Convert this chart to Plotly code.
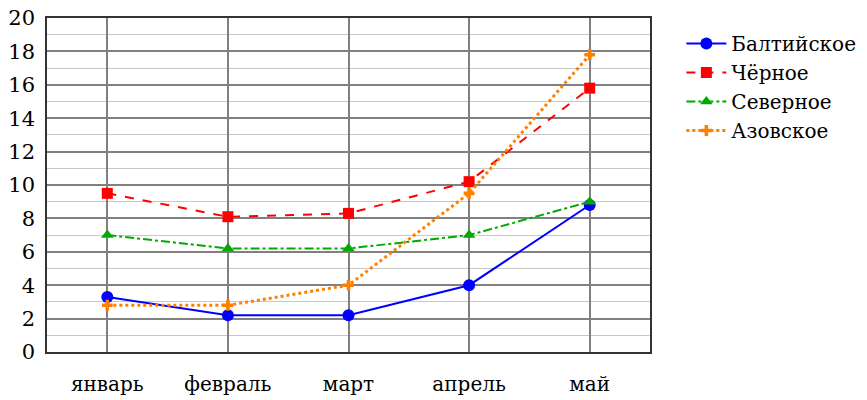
import plotly.graph_objects as go

months = ["январь", "февраль", "март", "апрель", "май"]
baltic = [3.3, 2.2, 2.2, 4.0, 8.8]
black = [9.5, 8.1, 8.3, 10.2, 15.8]
north = [7.0, 6.2, 6.2, 7.0, 9.0]
azov = [2.8, 2.8, 4.0, 9.5, 17.8]
y_ticks = list(range(0, 21, 2))

FONT = "DejaVu Serif"

fig = go.Figure()
fig.add_trace(go.Scatter(x=months, y=baltic, name="Балтийское", mode="lines+markers",
                         line=dict(color="#0000ff", width=2, dash="solid"),
                         marker=dict(symbol="circle", size=12, color="#0000ff")))
fig.add_trace(go.Scatter(x=months, y=black, name="Чёрное", mode="lines+markers",
                         line=dict(color="#ff0000", width=2, dash="dash"),
                         marker=dict(symbol="square", size=11, color="#ff0000")))
fig.add_trace(go.Scatter(x=months, y=north, name="Северное", mode="lines+markers",
                         line=dict(color="#00aa00", width=2, dash="dashdot"),
                         marker=dict(symbol="triangle-up", size=11, color="#00aa00")))
fig.add_trace(go.Scatter(x=months, y=azov, name="Азовское", mode="lines+markers",
                         line=dict(color="#ff8000", width=3, dash="dot"),
                         marker=dict(symbol="cross", size=9, color="#ff8000")))

fig.update_layout(
    width=867, height=400,
    margin=dict(l=47, r=217, t=18, b=48, autoexpand=False),
    paper_bgcolor="white", plot_bgcolor="white",
    font=dict(family=FONT, size=20, color="black"),
    legend=dict(x=1.052, y=0.982, xanchor="left", yanchor="top",
                font=dict(family=FONT, size=20, color="black"), tracegroupgap=0,
                itemwidth=40, bgcolor="rgba(0,0,0,0)"),
    showlegend=True,
)
fig.update_xaxes(
    type="category", range=[-0.5, 4.5], automargin=False,
    showgrid=True, gridcolor="#808080", gridwidth=2,
    showline=True, linecolor="#333333", linewidth=1.5, mirror=True,
    ticks="", ticklabelstandoff=13, zeroline=False,
    tickfont=dict(family=FONT, size=20, color="black"),
)
fig.update_yaxes(
    range=[0, 20], tickvals=y_ticks, ticktext=[str(v) for v in y_ticks],
    automargin=False,
    showgrid=True, gridcolor="#808080", gridwidth=2,
    minor=dict(dtick=1, showgrid=True, gridcolor="#c8c8c8", gridwidth=1),
    showline=True, linecolor="#333333", linewidth=1.5, mirror=True,
    ticks="", ticklabelstandoff=6, zeroline=False,
    tickfont=dict(family=FONT, size=21, color="black"),
)
fig.write_html("out.html", config={"displayModeBar": False},
               post_script="document.body.style.margin='0';")
